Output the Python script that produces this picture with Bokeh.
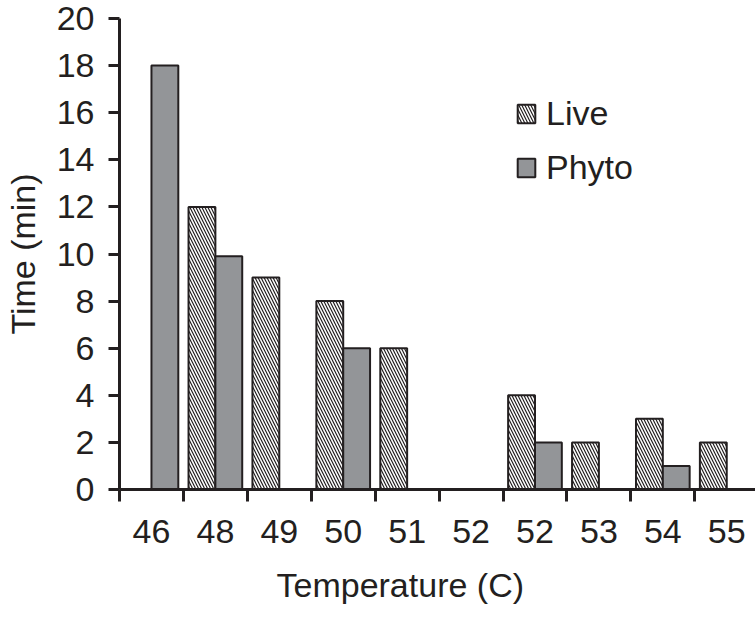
import numpy as np
from bokeh.plotting import figure
from bokeh.models import ColumnDataSource, Range1d, FixedTicker, Legend, LegendItem, Title
from bokeh.embed import file_html
from bokeh.resources import INLINE

# ---- data ----
temps = ["46", "48", "49", "50", "51", "52", "52", "53", "54", "55"]
live = [0, 12, 9, 8, 6, 0, 4, 2, 3, 2]
phyto = [18, 9.9, 0, 6, 0, 0, 2, 0, 1, 0]
y_ticks = [0, 2, 4, 6, 8, 10, 12, 14, 16, 18, 20]
x_title = "Temperature (C)"
y_title = "Time (min)"

FONT = "Liberation Sans"
FS = "34px"
INK = "#231f20"
GRAY = "#939598"
BAR_W = 0.42

centers = [i + 0.5 for i in range(len(temps))]
live_src = ColumnDataSource(dict(
    x=[c - BAR_W / 2 for c, v in zip(centers, live) if v > 0],
    top=[v for v in live if v > 0]))
phyto_src = ColumnDataSource(dict(
    x=[c + BAR_W / 2 for c, v in zip(centers, phyto) if v > 0],
    top=[v for v in phyto if v > 0]))

p = figure(width=755, height=621, x_range=Range1d(0, 9.95), y_range=Range1d(0, 20),
           output_backend="svg", toolbar_location=None,
           min_border_left=116, min_border_top=18, min_border_right=0, min_border_bottom=132)
p.outline_line_color = None
p.xgrid.visible = False
p.ygrid.visible = False
p.background_fill_color = "white"

r_live = p.vbar(x="x", top="top", bottom=0, width=BAR_W, source=live_src,
                fill_color="white", hatch_pattern="\\", hatch_color=INK,
                hatch_scale=6, hatch_weight=1.2,
                line_color=INK, line_width=2)
r_phyto = p.vbar(x="x", top="top", bottom=0, width=BAR_W, source=phyto_src,
                 fill_color=GRAY, line_color=INK, line_width=2)

# x axis
xa = p.xaxis[0]
xa.ticker = FixedTicker(ticks=centers, minor_ticks=list(range(0, len(temps) + 1)))
xa.major_label_overrides = {c: t for c, t in zip(centers, temps)}
xa.major_tick_line_color = None
xa.major_tick_out = 12
xa.major_tick_in = 0
xa.minor_tick_line_color = INK
xa.minor_tick_line_width = 3
xa.minor_tick_out = 12
xa.minor_tick_in = 0
xa.axis_line_color = INK
xa.axis_line_width = 3
xa.major_label_text_font = FONT
xa.major_label_text_font_size = FS
xa.major_label_text_color = INK
xa.major_label_standoff = 18

# x-axis title below the tick labels, placed as in the reference
p.add_layout(Title(text=x_title, align="left", offset=157, standoff=0,
                   padding=dict(left=0, right=0, top=20, bottom=0),
                   vertical_align="top", text_font=FONT, text_font_size=FS,
                   text_font_style="normal", text_color=INK), "below")

# y axis
ya = p.yaxis[0]
ya.ticker = FixedTicker(ticks=y_ticks, minor_ticks=[])
ya.major_tick_line_color = INK
ya.major_tick_line_width = 3
ya.major_tick_out = 11
ya.major_tick_in = 0
ya.minor_tick_line_color = None
ya.axis_line_color = INK
ya.axis_line_width = 3
ya.major_label_text_font = FONT
ya.major_label_text_font_size = FS
ya.major_label_text_color = INK
ya.major_label_standoff = 14
ya.axis_label = y_title
ya.axis_label_text_font = FONT
ya.axis_label_text_font_size = FS
ya.axis_label_text_font_style = "normal"
ya.axis_label_text_color = INK
ya.axis_label_standoff = 12

legend = Legend(items=[LegendItem(label="Live", renderers=[r_live]),
                       LegendItem(label="Phyto", renderers=[r_phyto])],
                location=(396, 302), border_line_color=None, background_fill_alpha=0,
                padding=0, margin=0, spacing=15, glyph_width=22, glyph_height=23,
                label_standoff=9,
                label_text_font=FONT, label_text_font_size=FS, label_text_color=INK)
p.add_layout(legend)

open("out.html", "w").write(file_html(p, INLINE))
